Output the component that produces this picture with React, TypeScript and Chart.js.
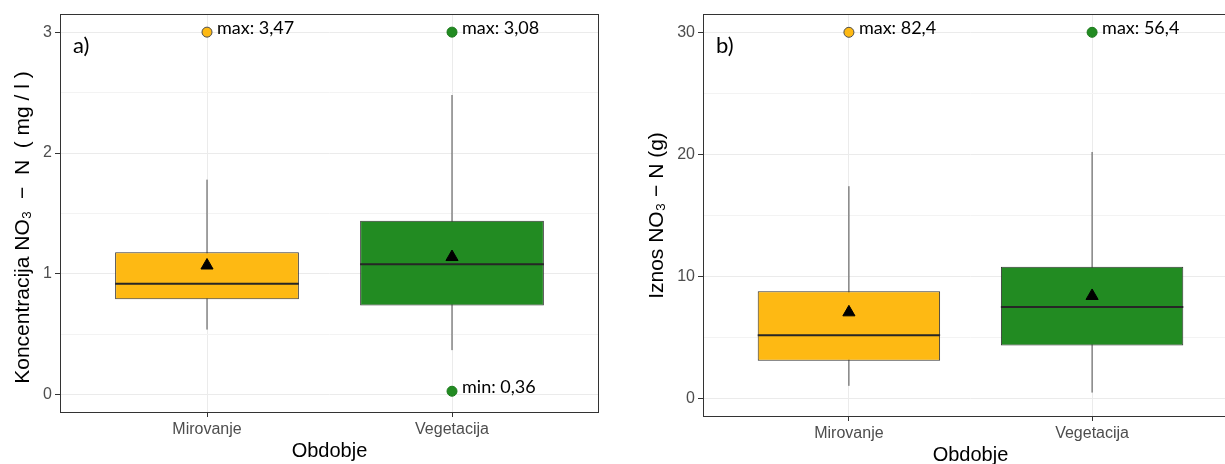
import React, { useEffect, useRef } from 'react';
import { Chart, registerables } from 'chart.js';

Chart.register(...registerables);

// ---------- shared categories ----------
const categories = ['Mirovanje', 'Vegetacija'];
const categoryX = [1, 2];
const xRange = [0.4, 2.6];
const boxWidth = 0.75;

// ---------- panel a) concentration ----------
const concQ1 = [0.79, 0.74];
const concMedian = [0.92, 1.08];
const concQ3 = [1.18, 1.44];
const concWhiskerLow = [0.54, 0.37];
const concWhiskerHigh = [1.78, 2.48];
const concMean = [1.07, 1.14];
const concExtremeCategory = [0, 1, 1];
const concExtremeValue = [3.0, 3.0, 0.03];
const concExtremeLabel = ['max: 3,47', 'max: 3,08', 'min: 0,36'];
const concGridTicks = [0, 0.5, 1, 1.5, 2, 2.5, 3];
const concTickLabels = [0, 1, 2, 3];
const concRange = [-0.15, 3.15];

// ---------- panel b) load ----------
const loadQ1 = [3.1, 4.35];
const loadMedian = [5.2, 7.5];
const loadQ3 = [8.8, 10.8];
const loadWhiskerLow = [1.05, 0.5];
const loadWhiskerHigh = [17.4, 20.2];
const loadMean = [7.07, 8.41];
const loadExtremeCategory = [0, 1];
const loadExtremeValue = [30, 30];
const loadExtremeLabel = ['max: 82,4', 'max: 56,4'];
const loadGridTicks = [0, 5, 10, 15, 20, 25, 30];
const loadTickLabels = [0, 10, 20, 30];
const loadRange = [-1.5, 31.5];

// ---------- styles ----------
const CAT_FILL = ['#FEB913', '#228B22'];
const CAT_POINT_BORDER = ['#4d4d4d', '#1d7a1d'];
const FONT_SANS = "'Liberation Sans', Arial, sans-serif";
const FONT_NOTE = "Lato, 'Open Sans', sans-serif";
const DARK = '#333333';

type PanelData = {
  tag: string;
  yTitle: string;
  q1: number[];
  median: number[];
  q3: number[];
  lo: number[];
  hi: number[];
  mean: number[];
  extCat: number[];
  extVal: number[];
  extLabel: string[];
  gridTicks: number[];
  tickLabels: number[];
  range: number[];
};

type PanelGeom = {
  left: number;
  width: number;
  yAxisWidth: number;
  xAxisHeight: number;
  padTop: number;
  padRight: number;
  yTitleX: number;
  yTitleShift: number;
  xTitlePad: number;
};

const panelA: PanelData = {
  tag: 'a)',
  yTitle: 'Koncentracija NO\u2083  \u2212  N  ( mg / l )',
  q1: concQ1,
  median: concMedian,
  q3: concQ3,
  lo: concWhiskerLow,
  hi: concWhiskerHigh,
  mean: concMean,
  extCat: concExtremeCategory,
  extVal: concExtremeValue,
  extLabel: concExtremeLabel,
  gridTicks: concGridTicks,
  tickLabels: concTickLabels,
  range: concRange,
};

const panelB: PanelData = {
  tag: 'b)',
  yTitle: 'Iznos NO\u2083 \u2212 N (g)',
  q1: loadQ1,
  median: loadMedian,
  q3: loadQ3,
  lo: loadWhiskerLow,
  hi: loadWhiskerHigh,
  mean: loadMean,
  extCat: loadExtremeCategory,
  extVal: loadExtremeValue,
  extLabel: loadExtremeLabel,
  gridTicks: loadGridTicks,
  tickLabels: loadTickLabels,
  range: loadRange,
};

const geomA: PanelGeom = {
  left: 0, width: 612, yAxisWidth: 60, xAxisHeight: 51, padTop: 14, padRight: 13,
  yTitleX: 23, yTitleShift: 14, xTitlePad: 1,
};
const geomB: PanelGeom = {
  left: 612, width: 640, yAxisWidth: 91, xAxisHeight: 47, padTop: 14, padRight: 14,
  yTitleX: 45, yTitleShift: 0, xTitlePad: -3,
};

const EXTREME_DATASET = 4;

function buildConfig(d: PanelData, g: PanelGeom): any {
  const whisker: any[] = [];
  const median: any[] = [];
  categoryX.forEach((x, i) => {
    whisker.push({ x, y: d.lo[i] }, { x, y: d.hi[i] }, { x, y: null });
    median.push(
      { x: x - boxWidth / 2, y: d.median[i] },
      { x: x + boxWidth / 2, y: d.median[i] },
      { x, y: null },
    );
  });

  const annotate = {
    id: 'annotate',
    afterDatasetsDraw(chart: any) {
      const ctx = chart.ctx;
      const a = chart.chartArea;
      ctx.save();
      ctx.fillStyle = '#000';
      ctx.textBaseline = 'middle';
      ctx.textAlign = 'left';
      ctx.font = `18px ${FONT_NOTE}`;
      const meta = chart.getDatasetMeta(EXTREME_DATASET);
      meta.data.forEach((el: any, i: number) => {
        ctx.fillText(d.extLabel[i], el.x + 10, el.y - 4);
      });
      ctx.font = `22px ${FONT_NOTE}`;
      ctx.fillText(d.tag, a.left + 13, a.top + 32);
      ctx.strokeStyle = DARK;
      ctx.lineWidth = 1;
      ctx.strokeRect(a.left + 0.5, a.top + 0.5, a.right - a.left - 1, a.bottom - a.top - 1);

      // y-axis title
      ctx.translate(g.yTitleX, (a.top + a.bottom) / 2 + g.yTitleShift);
      ctx.rotate(-Math.PI / 2);
      ctx.textAlign = 'center';
      ctx.textBaseline = 'middle';
      ctx.font = `21px ${FONT_SANS}`;
      ctx.fillText(d.yTitle, 0, 0);
      ctx.restore();
    },
  };

  return {
    type: 'bar',
    data: {
      datasets: [
        {
          type: 'line',
          label: 'whisker',
          data: whisker,
          borderColor: '#4d4d4d',
          borderWidth: 1,
          pointRadius: 0,
          spanGaps: false,
          order: 3,
        },
        {
          type: 'bar',
          label: 'box',
          data: categoryX.map((x, i) => ({ x, y: [d.q1[i], d.q3[i]] })),
          backgroundColor: CAT_FILL,
          borderColor: DARK,
          borderWidth: 1,
          borderSkipped: false,
          barPercentage: boxWidth,
          categoryPercentage: 1,
          order: 2,
        },
        {
          type: 'line',
          label: 'median',
          data: median,
          borderColor: '#262626',
          borderWidth: 2,
          pointRadius: 0,
          spanGaps: false,
          order: 1,
        },
        {
          type: 'scatter',
          label: 'mean',
          data: categoryX.map((x, i) => ({ x, y: d.mean[i] })),
          pointStyle: 'triangle',
          pointRadius: 7,
          backgroundColor: '#000',
          borderColor: '#000',
          borderWidth: 1,
          order: 0,
        },
        {
          type: 'scatter',
          label: 'extreme',
          data: d.extCat.map((c, i) => ({ x: categoryX[c], y: d.extVal[i] })),
          pointRadius: 5,
          backgroundColor: d.extCat.map((c) => CAT_FILL[c]),
          borderColor: d.extCat.map((c) => CAT_POINT_BORDER[c]),
          borderWidth: 1,
          order: 0,
        },
      ],
    },
    options: {
      animation: false,
      responsive: false,
      maintainAspectRatio: false,
      events: [],
      layout: { padding: { left: 0, top: g.padTop, right: g.padRight, bottom: 0 } },
      plugins: {
        legend: { display: false },
        tooltip: { enabled: false },
        title: { display: false },
      },
      scales: {
        x: {
          type: 'linear',
          min: xRange[0],
          max: xRange[1],
          offset: false,
          afterBuildTicks: (s: any) => {
            s.ticks = categoryX.map((v) => ({ value: v }));
          },
          afterFit: (s: any) => {
            s.height = g.xAxisHeight;
          },
          grid: {
            offset: false,
            color: '#EBEBEB',
            lineWidth: 1,
            drawTicks: true,
            tickLength: 4,
            tickColor: DARK,
          },
          border: { display: false },
          ticks: {
            autoSkip: false,
            maxRotation: 0,
            padding: 3,
            color: '#4D4D4D',
            font: { family: FONT_SANS, size: 16 },
            callback: (v: any) => {
              const idx = categoryX.indexOf(Number(v));
              return idx >= 0 ? categories[idx] : '';
            },
          },
          title: {
            display: true,
            text: 'Obdobje',
            color: '#000',
            font: { family: FONT_SANS, size: 20 },
            padding: { top: 0, bottom: g.xTitlePad },
          },
        },
        y: {
          type: 'linear',
          min: d.range[0],
          max: d.range[1],
          afterBuildTicks: (s: any) => {
            s.ticks = d.gridTicks.map((v) => ({ value: v }));
          },
          afterFit: (s: any) => {
            s.width = g.yAxisWidth;
          },
          grid: {
            color: (ctx: any) =>
              ctx.tick && d.tickLabels.includes(ctx.tick.value) ? '#EBEBEB' : '#F3F3F3',
            lineWidth: 1,
            drawTicks: true,
            tickLength: 5,
            tickColor: (ctx: any) =>
              ctx.tick && d.tickLabels.includes(ctx.tick.value) ? DARK : 'rgba(0,0,0,0)',
          },
          border: { display: false },
          ticks: {
            autoSkip: false,
            padding: 3,
            color: '#4D4D4D',
            font: { family: FONT_SANS, size: 16 },
            callback: (v: any) => (d.tickLabels.includes(Number(v)) ? String(v) : ''),
          },
          title: { display: false },
        },
      },
    },
    plugins: [annotate],
  };
}

function Panel({ data, geom }: { data: PanelData; geom: PanelGeom }) {
  const ref = useRef<HTMLCanvasElement | null>(null);
  useEffect(() => {
    if (!ref.current) return;
    const chart = new Chart(ref.current, buildConfig(data, geom));
    return () => chart.destroy();
  }, [data, geom]);
  return (
    <canvas
      ref={ref}
      width={geom.width}
      height={464}
      style={{ position: 'absolute', left: geom.left, top: 0, width: geom.width, height: 464 }}
    />
  );
}

export default function App() {
  return (
    <div
      style={{
        position: 'fixed',
        left: 0,
        top: 0,
        width: 1225,
        height: 464,
        overflow: 'hidden',
        background: '#fff',
      }}
    >
      <Panel data={panelA} geom={geomA} />
      <Panel data={panelB} geom={geomB} />
    </div>
  );
}
